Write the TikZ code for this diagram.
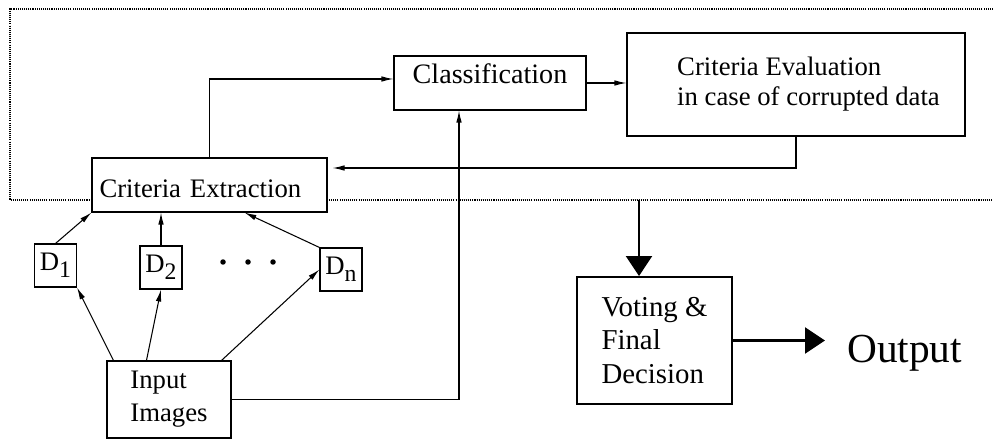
\documentclass[tikz,border=0pt]{standalone}
\usepackage{fontspec}
\setmainfont{Liberation Serif}
\usepackage{tikz}
\usetikzlibrary{arrows.meta}
\usetikzlibrary{calc}
\newcommand{\dsub}[1]{\raisebox{-0.55ex}{\fontsize{13.5}{13.5}\selectfont #1}}

\begin{document}
\begin{tikzpicture}[
	box/.style={draw, fill=white, line width=0.6pt, inner sep=0pt, font=\fontsize{15.2}{17}\selectfont},
	dbox/.style={box, minimum width=0.84cm, minimum height=0.86cm},
	arr/.style={-{Latex[length=0.24cm, width=0.11cm]}, line width=0.6pt},
	bigarr/.style={-{Triangle[length=0.4cm, width=0.52cm]}, line width=1.3pt}
]
	\useasboundingbox (0, 0) rectangle (19.86, 8.8);

	\draw[line width=1pt, dash pattern=on 0.6pt off 0.6pt] (19.86, 8.62) -- (0.2, 8.62) -- (0.2, 4.8) -- (19.86, 4.8);
	\coordinate (cut) at (12.78, 4.8);

	\node[box, text width=4.4cm, align=left, inner xsep=0.15cm, text height=0.8cm, text depth=0.28cm] (extr) at (4.19, 5.1) {Criteria Extraction};
	\node[box, minimum width=3.84cm, text height=0.56cm, text depth=0.52cm, font=\fontsize{16}{18}\selectfont] (cls) at (9.8, 7.14) {Classification};
	\node[box, minimum width=6.76cm, minimum height=2.06cm, align=left] (eval) at (15.92, 7.11) {\hspace*{0.5cm}Criteria Evaluation\\\hspace*{0.5cm}in case of corrupted data};

	\node[dbox] (d1) at (1.11, 3.49) {D\dsub{1}};
	\node[dbox] (d2) at (3.22, 3.45) {D\dsub{2}};
	\node[dbox] (dn) at (6.82, 3.41) {D\dsub{n}};
	\fill (4.46, 3.56) circle (0.055);
	\fill (4.96, 3.56) circle (0.055);
	\fill (5.46, 3.56) circle (0.055);

	\node[box, minimum width=2.48cm, minimum height=1.54cm, align=left, font=\fontsize{15.2}{18.7}\selectfont] (inp) at (3.38, 0.81) {Input\\Images};
	\node[box, line width=1.1pt, minimum width=3.1cm, minimum height=2.54cm, align=left, font=\fontsize{16.4}{19.3}\selectfont] (vote) at (13.09, 1.99) {Voting \&\\Final\\Decision};
	\node[font=\fontsize{23.5}{26}\selectfont, inner sep=0pt, anchor=base west] (out) at (16.94, 1.56) {Output};

	\draw[arr] (extr.north) |- ([yshift=0.08cm]cls.west);
	\draw[arr] (cls.east) -- (cls.east -| eval.west);
	\draw[arr] (eval.south) |- ([shift={(0.1, 0.34)}]extr.east);
	\draw[arr] (inp.east) -| ([xshift=-0.62cm]cls.south);

	\draw[arr] ([xshift=0.14cm]inp.north west) -- (d1.south east);
	\draw[arr] ([xshift=0.8cm]inp.north west) -- (d2.south);
	\draw[arr] ([xshift=2.3cm]inp.north west) -- (dn.west);
	\draw[arr] (d1.north) -- (extr.south west);
	\draw[arr] (d2.north) -- (d2.north |- extr.south);
	\draw[arr] (dn.north west) -- ([xshift=3.06cm]extr.south west);

	\draw[bigarr] (cut) -- (cut |- vote.north);
	\draw[bigarr] (vote.east) -- ([xshift=-0.44cm]vote.east -| out.west);
\end{tikzpicture}
\end{document}
